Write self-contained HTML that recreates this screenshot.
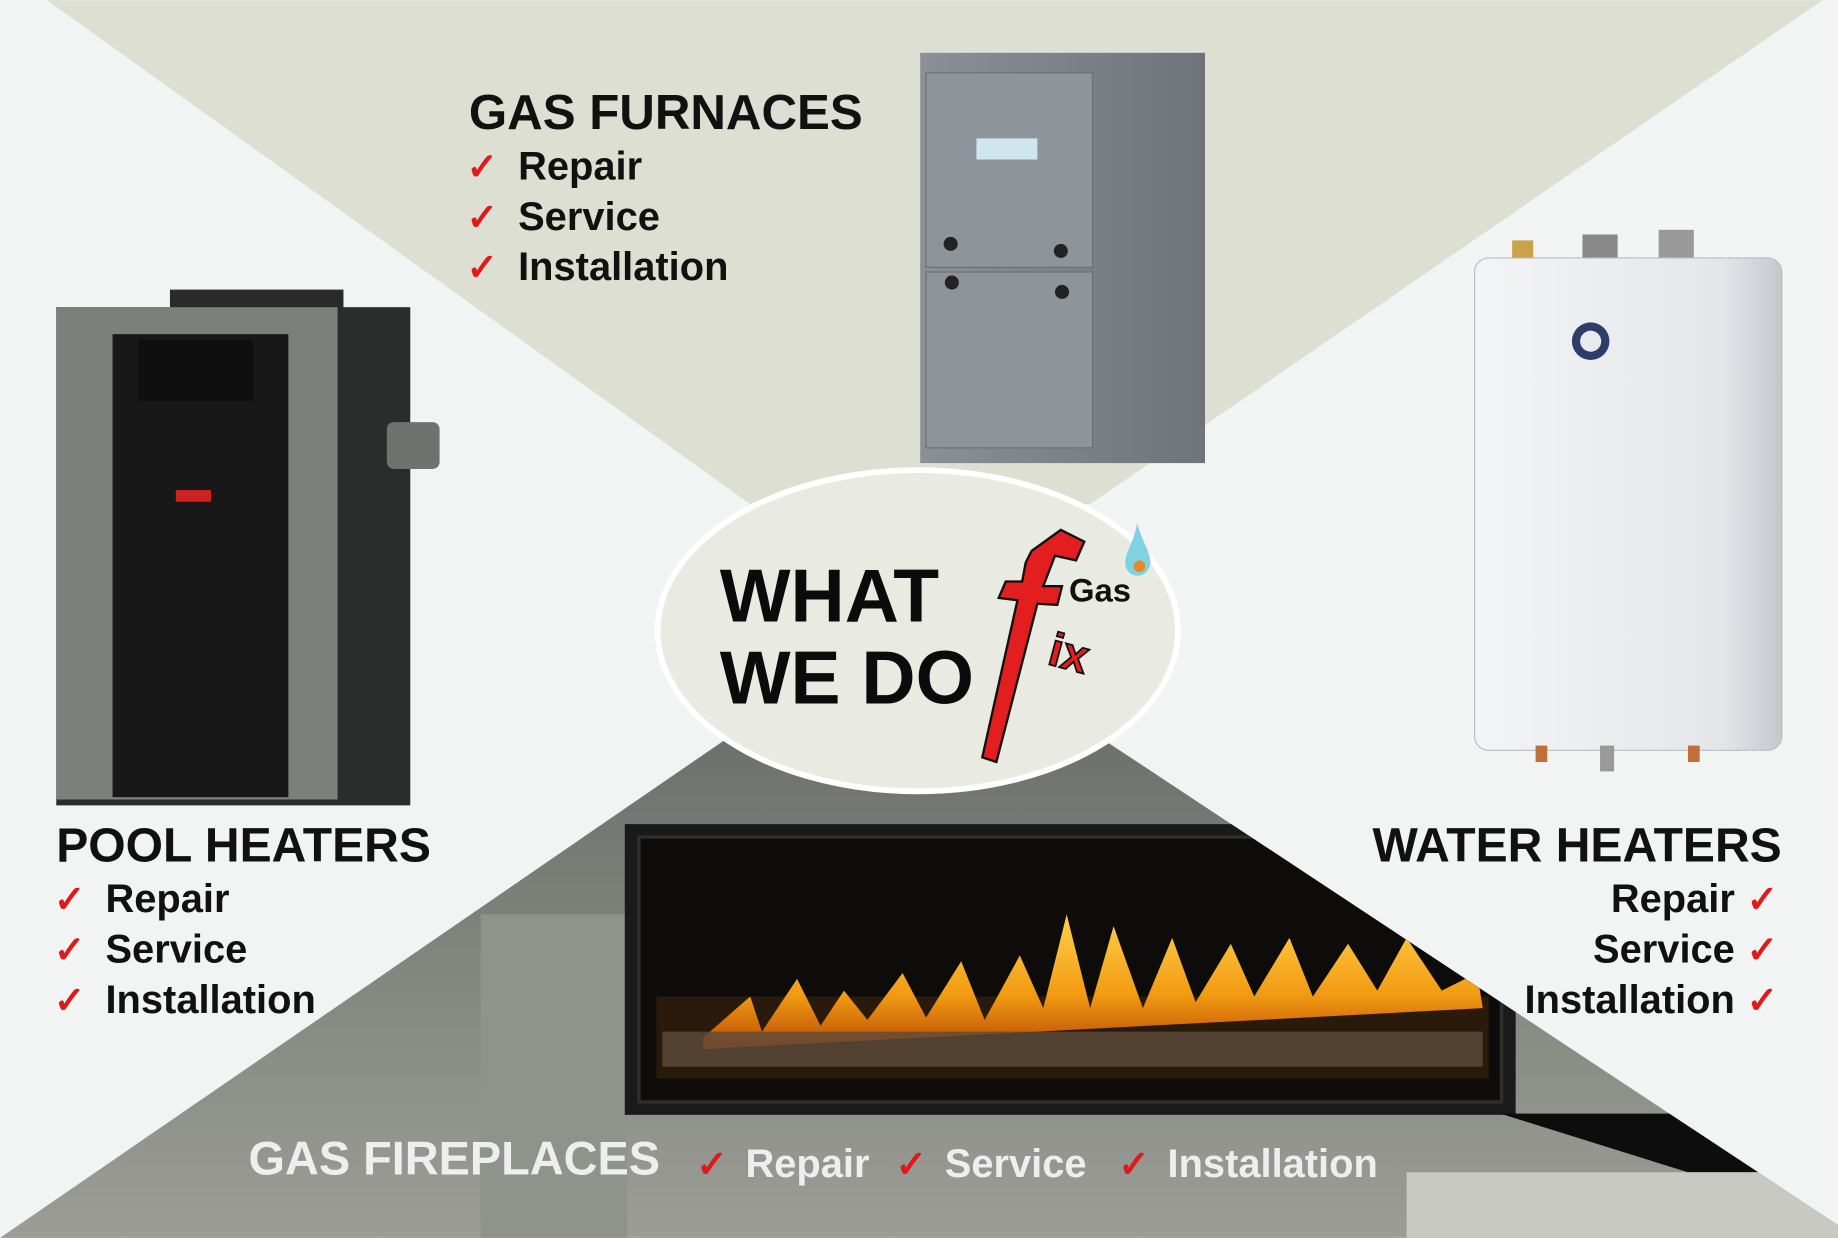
<!DOCTYPE html>
<html><head><meta charset="utf-8"><style>
html,body{margin:0;padding:0;width:1838px;height:1238px;overflow:hidden;background:#f1f4f2}
svg{display:block}
text{font-family:"Liberation Sans",sans-serif;font-weight:bold}
</style></head><body>
<svg width="1838" height="1238" viewBox="0 0 1568 1056" xmlns="http://www.w3.org/2000/svg">
<defs>
<linearGradient id="wall" x1="0" y1="0" x2="0" y2="1"><stop offset="0" stop-color="#6e716b"/><stop offset="1" stop-color="#9c9d97"/></linearGradient>
<linearGradient id="flame" x1="0" y1="0" x2="0" y2="1"><stop offset="0" stop-color="#ffd24a"/><stop offset="0.6" stop-color="#f29a12"/><stop offset="1" stop-color="#b94a05"/></linearGradient>
<linearGradient id="furn" x1="0" y1="0" x2="1" y2="0"><stop offset="0" stop-color="#8b9096"/><stop offset="1" stop-color="#6f747a"/></linearGradient>
<linearGradient id="wh" x1="0" y1="0" x2="1" y2="0"><stop offset="0" stop-color="#f3f4f6"/><stop offset="0.8" stop-color="#e4e6ea"/><stop offset="1" stop-color="#c5c8cd"/></linearGradient>
</defs>
<rect width="1568" height="1056" fill="#f1f4f2"/>
<polygon points="40,0 1555,0 930,430 640,430" fill="#dcdfd2"/>
<polygon points="620,630 940,630 1568,1045 1568,1056 0,1056" fill="url(#wall)"/>
<clipPath id="bc"><polygon points="620,630 940,630 1568,1045 1568,1056 0,1056"/></clipPath>
<g clip-path="url(#bc)">
<rect x="410" y="780" width="125" height="280" fill="#90928c"/>
<rect x="533" y="703" width="760" height="248" fill="#1a1a1a"/>
<rect x="545" y="714" width="736" height="226" fill="#0d0c0b" stroke="#2e2e2e" stroke-width="3"/>
<rect x="560" y="850" width="710" height="70" fill="#2a1a0c"/>
<path d="M600,885 L640,850 650,880 680,835 700,875 720,845 740,870 770,830 790,868 820,820 840,870 870,815 890,860 910,780 930,860 950,790 975,860 1000,800 1020,855 1050,805 1070,850 1100,800 1120,850 1150,805 1175,845 1200,800 1230,845 1260,830 1265,860 600,895Z" fill="url(#flame)"/>
<rect x="565" y="880" width="700" height="30" fill="#5c4a3a" opacity="0.8"/>
<polygon points="1280,950 1568,950 1568,1000 1440,1000" fill="#0d0d0d"/>
<rect x="1200" y="1000" width="370" height="60" fill="#c9c9c4"/>
</g>
<ellipse cx="783" cy="538" rx="222" ry="137" fill="#e9eae1" stroke="#fff" stroke-width="5"/>
<text x="614" y="530" font-size="64" fill="#0b0b0b">WHAT</text>
<text x="614" y="600" font-size="64" fill="#0b0b0b">WE DO</text>
<path d="M880,470 L905,452 925,462 918,478 900,474 890,500 906,500 902,516 885,515 850,650 838,646 868,512 852,510 858,496 872,496 875,480 Z" fill="#e31e1e" stroke="#111" stroke-width="2"/>
<text x="912" y="513" font-size="28" fill="#111">Gas</text>
<text x="895" y="573" font-size="40" fill="#e31e1e" stroke="#111" stroke-width="1.5" transform="rotate(15 920 560)">ix</text>
<path d="M970,446 C975,465 985,475 980,485 C975,495 960,492 960,480 C960,470 968,462 970,446Z" fill="#7fd3e0"/>
<circle cx="972" cy="483" r="5" fill="#e38b2a"/>
<rect x="785" y="45" width="243" height="350" fill="url(#furn)"/>
<rect x="790" y="62" width="142" height="166" fill="#8f949a" stroke="#6c7177"/>
<rect x="790" y="232" width="142" height="150" fill="#8f949a" stroke="#6c7177"/>
<rect x="833" y="118" width="52" height="18" fill="#cfe6ef"/>
<circle cx="811" cy="208" r="6" fill="#222"/><circle cx="905" cy="214" r="6" fill="#222"/>
<circle cx="812" cy="241" r="6" fill="#222"/><circle cx="906" cy="249" r="6" fill="#222"/>
<rect x="1290" y="205" width="18" height="22" fill="#c9a24a"/><rect x="1350" y="200" width="30" height="24" fill="#888"/><rect x="1415" y="196" width="30" height="26" fill="#999"/>
<rect x="1258" y="220" width="262" height="420" rx="12" fill="url(#wh)" stroke="#b9bcc1"/>
<circle cx="1357" cy="291" r="16" fill="#2e3c6a"/><circle cx="1357" cy="291" r="9" fill="#e8eaf0"/>
<rect x="1310" y="636" width="10" height="14" fill="#c0703a"/><rect x="1365" y="636" width="12" height="22" fill="#999"/><rect x="1440" y="636" width="10" height="14" fill="#c0703a"/>
<rect x="145" y="247" width="148" height="20" fill="#2a2a2a"/>
<rect x="48" y="262" width="302" height="425" fill="#2b2d2c"/>
<rect x="48" y="262" width="240" height="420" fill="#7c807b"/>
<rect x="96" y="285" width="150" height="395" fill="#181818"/>
<rect x="118" y="290" width="98" height="52" fill="#0f0f0f"/>
<rect x="150" y="418" width="30" height="10" fill="#c22"/>
<rect x="330" y="360" width="45" height="40" rx="6" fill="#6f736e"/>
<g fill="#111">
<text x="400" y="110" font-size="42">GAS FURNACES</text>
<text x="442" y="153" font-size="34">Repair</text>
<text x="442" y="196" font-size="34">Service</text>
<text x="442" y="239" font-size="34">Installation</text>
<text x="48" y="735" font-size="41">POOL HEATERS</text>
<text x="90" y="778" font-size="34">Repair</text>
<text x="90" y="821" font-size="34">Service</text>
<text x="90" y="864" font-size="34">Installation</text>
<text x="1520" y="735" font-size="41" text-anchor="end">WATER HEATERS</text>
<text x="1480" y="778" font-size="34" text-anchor="end">Repair</text>
<text x="1480" y="821" font-size="34" text-anchor="end">Service</text>
<text x="1480" y="864" font-size="34" text-anchor="end">Installation</text>
</g>
<g fill="#eeeeee">
<text x="212" y="1002" font-size="40">GAS FIREPLACES</text>
<text x="636" y="1004" font-size="34">Repair</text>
<text x="806" y="1004" font-size="34">Service</text>
<text x="996" y="1004" font-size="34">Installation</text>
</g>
<g fill="#e01a1a" font-size="32">
<text x="398" y="153">✓</text><text x="398" y="196">✓</text><text x="398" y="239">✓</text>
<text x="46" y="778">✓</text><text x="46" y="821">✓</text><text x="46" y="864">✓</text>
<text x="1490" y="778">✓</text><text x="1490" y="821">✓</text><text x="1490" y="864">✓</text>
<text x="594" y="1004">✓</text><text x="764" y="1004">✓</text><text x="954" y="1004">✓</text>
</g>
</svg>
</body></html>
